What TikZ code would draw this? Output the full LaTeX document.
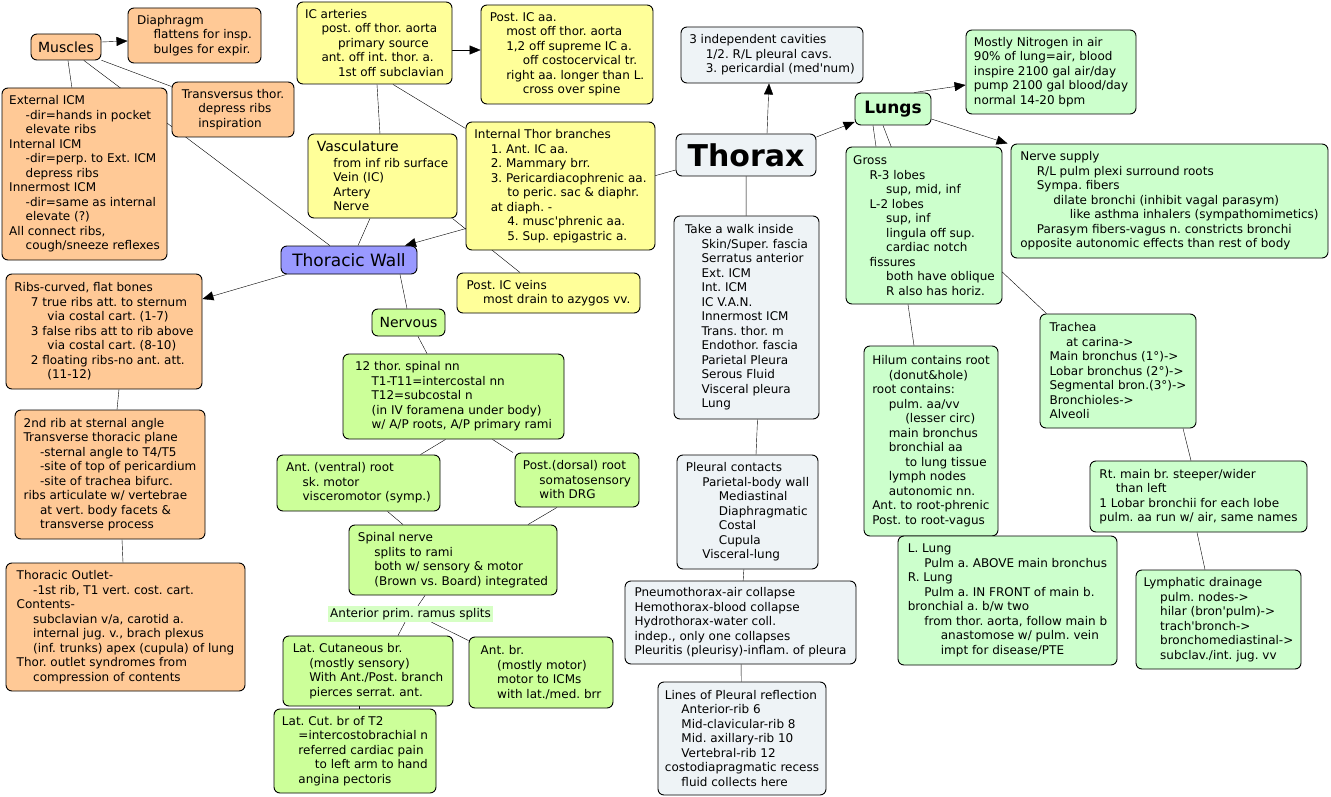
\documentclass[tikz,border=0pt]{standalone}
\usepackage{fontspec}
\setmainfont{DejaVu Sans}
\usepackage{tikz}
\usetikzlibrary{arrows.meta, backgrounds}

\definecolor{boxorange}{RGB}{255,201,150}
\definecolor{boxyellow}{RGB}{255,255,153}
\definecolor{boxgreen}{RGB}{204,255,153}
\definecolor{boxlung}{RGB}{204,255,204}
\definecolor{boxblue}{RGB}{153,153,255}
\definecolor{boxgrey}{RGB}{238,243,246}
\definecolor{linkgreen}{RGB}{214,255,196}

\newcommand{\indA}{\hspace*{16.5pt}}
\newcommand{\indB}{\hspace*{33pt}}
\newcommand{\indC}{\hspace*{49.5pt}}
\newcommand{\apos}{\textquotesingle}
\frenchspacing

\begin{document}
\begin{tikzpicture}[x=1pt,y=-1pt,>={Triangle[length=11pt,width=9pt]},
  every node/.style={font=\fontsize{12}{14.5}\selectfont},
  cbox/.style={draw,rounded corners=6pt,line width=0.9pt,align=left,inner sep=0pt},
  orangebox/.style={cbox,fill=boxorange},
  yellowbox/.style={cbox,fill=boxyellow},
  greenbox/.style={cbox,fill=boxgreen},
  lungbox/.style={cbox,fill=boxlung},
  bluebox/.style={cbox,fill=boxblue},
  greybox/.style={cbox,fill=boxgrey}]
\useasboundingbox (0,0) rectangle (1331,797);

% thoracic wall side
\node[orangebox,minimum width=70pt,minimum height=26pt] (muscles) at (66,47) {\fontsize{14}{17}\selectfont Muscles};
\node[orangebox,minimum width=133pt,minimum height=55pt] (diaphragm) at (194.5,35.5) {Diaphragm\\\indA flattens for insp.\\\indA bulges for expir.};
\node[orangebox,minimum width=165pt,minimum height=172pt] (icm) at (84.5,174) {External ICM\\\indA -dir=hands in pocket\\\indA elevate ribs\\Internal ICM\\\indA -dir=perp. to Ext. ICM\\\indA depress ribs\\Innermost ICM\\\indA -dir=same as internal\\\indA elevate (?)\\All connect ribs,\\\indA cough/sneeze reflexes};
\node[orangebox,minimum width=122pt,minimum height=55pt] (transv) at (233,109.5) {Transversus thor.\\\indA depress ribs\\\indA inspiration};
\node[yellowbox,minimum width=155pt,minimum height=82pt] (icart) at (374.5,43) {IC arteries\\\indA post. off thor. aorta\\\indB primary source\\\indA ant. off int. thor. a.\\\indB 1st off subclavian};
\node[yellowbox,minimum width=172pt,minimum height=99pt] (posticaa) at (567,54.5) {Post. IC aa.\\\indA most off thor. aorta\\\indA 1,2 off supreme IC a.\\\indB off costocervical tr.\\\indA right aa. longer than L.\\\indB cross over spine};
\node[yellowbox,minimum width=149pt,minimum height=84pt] (vasc) at (382.5,176) {{\fontsize{14}{17}\selectfont Vasculature}\\[1.5pt]\indA from inf rib surface\\\indA Vein (IC)\\\indA Artery\\\indA Nerve};
\node[yellowbox,minimum width=189pt,minimum height=128pt] (intthor) at (560.5,186) {Internal Thor branches\\\indA 1. Ant. IC aa.\\\indA 2. Mammary brr.\\\indA 3. Pericardiacophrenic aa.\\\indB to peric. sac \& diaphr.\\\indA at diaph. -\\\indB 4. musc\apos phrenic aa.\\\indB 5. Sup. epigastric a.};
\node[bluebox,minimum width=136pt,minimum height=28pt] (thwall) at (349,260) {\fontsize{17}{20}\selectfont Thoracic Wall};
\node[yellowbox,minimum width=183pt,minimum height=40pt] (posticv) at (548.5,293) {Post. IC veins\\\indA most drain to azygos vv.};
\node[orangebox,minimum width=196pt,minimum height=115pt] (ribs) at (104,331.5) {Ribs-curved, flat bones\\\indA 7 true ribs att. to sternum\\\indB via costal cart. (1-7)\\\indA 3 false ribs att to rib above\\\indB via costal cart. (8-10)\\\indA 2 floating ribs-no ant. att.\\\indB (11-12)};
\node[orangebox,minimum width=190pt,minimum height=129pt] (rib2) at (110,474.5) {2nd rib at sternal angle\\Transverse thoracic plane\\\indA -sternal angle to T4/T5\\\indA -site of top of pericardium\\\indA -site of trachea bifurc.\\ribs articulate w/ vertebrae\\\indA at vert. body facets \&\\\indA transverse process};
\node[orangebox,minimum width=239pt,minimum height=128pt] (outlet) at (125.5,627) {Thoracic Outlet-\\\indA -1st rib, T1 vert. cost. cart.\\Contents-\\\indA subclavian v/a, carotid a.\\\indA internal jug. v., brach plexus\\\indA (inf. trunks) apex (cupula) of lung\\Thor. outlet syndromes from\\\indA compression of contents};

% nerves
\node[greenbox,minimum width=73pt,minimum height=27pt] (nervous) at (408.5,322.5) {\fontsize{14}{17}\selectfont Nervous};
\node[greenbox,minimum width=221pt,minimum height=85pt] (spinalnn) at (453.5,396.5) {12 thor. spinal nn\\\indA T1-T11=intercostal nn\\\indA T12=subcostal n\\\indA (in IV foramena under body)\\\indA w/ A/P roots, A/P primary rami};
\node[greenbox,minimum width=163pt,minimum height=56pt] (antroot) at (358.5,483) {Ant. (ventral) root\\\indA sk. motor\\\indA visceromotor (symp.)};
\node[greenbox,minimum width=124pt,minimum height=54pt] (postroot) at (577,480) {Post.(dorsal) root\\\indA somatosensory\\\indA with DRG};
\node[greenbox,minimum width=208pt,minimum height=70pt] (spinal) at (453,560) {Spinal nerve\\\indA splits to rami\\\indA both w/ sensory \& motor\\\indA (Brown vs. Board) integrated};
\node[fill=linkgreen,inner sep=0pt,minimum width=165pt,minimum height=16pt] (ramus) at (410.5,614) {Anterior prim. ramus splits};
\node[greenbox,minimum width=170pt,minimum height=70pt] (latcut) at (368,671) {Lat. Cutaneous br.\\\indA (mostly sensory)\\\indA With Ant./Post. branch\\\indA pierces serrat. ant.};
\node[greenbox,minimum width=144pt,minimum height=71pt] (antbr) at (541,672.5) {Ant. br.\\\indA (mostly motor)\\\indA motor to ICMs\\\indA with lat./med. brr};
\node[greenbox,minimum width=162pt,minimum height=84pt] (latcutt) at (355,751) {Lat. Cut. br of T2\\\indA =intercostobrachial n\\\indA referred cardiac pain\\\indB to left arm to hand\\\indA angina pectoris};

% thorax and pleura
\node[greybox,minimum width=140pt,minimum height=42pt] (thorax) at (746,155) {\fontsize{30}{34}\selectfont\bfseries Thorax};
\node[greybox,minimum width=182pt,minimum height=56pt] (cavities) at (772,55) {3 independent cavities\\\indA 1/2. R/L pleural cavs.\\\indA 3. pericardial (med\apos num)};
\node[greybox,minimum width=145pt,minimum height=203pt] (walk) at (746.5,317.5) {Take a walk inside\\\indA Skin/Super. fascia\\\indA Serratus anterior\\\indA Ext. ICM\\\indA Int. ICM\\\indA IC V.A.N.\\\indA Innermost ICM\\\indA Trans. thor. m\\\indA Endothor. fascia\\\indA Parietal Pleura\\\indA Serous Fluid\\\indA Visceral pleura\\\indA Lung};
\node[greybox,minimum width=141pt,minimum height=114pt] (pleural) at (747.5,512) {Pleural contacts\\\indA Parietal-body wall\\\indB Mediastinal\\\indB Diaphragmatic\\\indB Costal\\\indB Cupula\\\indA Visceral-lung};
\node[greybox,minimum width=231pt,minimum height=83pt] (pneumo) at (740.5,622.5) {Pneumothorax-air collapse\\Hemothorax-blood collapse\\Hydrothorax-water coll.\\indep., only one collapses\\Pleuritis (pleurisy)-inflam. of pleura};
\node[greybox,minimum width=168pt,minimum height=113pt] (reflect) at (742,738.5) {Lines of Pleural reflection\\\indA Anterior-rib 6\\\indA Mid-clavicular-rib 8\\\indA Mid. axillary-rib 10\\\indA Vertebral-rib 12\\costodiapragmatic recess\\\indA fluid collects here};

% lungs
\node[lungbox,minimum width=76pt,minimum height=32pt] (lungs) at (893,109) {\fontsize{17}{20}\selectfont\bfseries Lungs};
\node[lungbox,minimum width=170pt,minimum height=84pt] (nitrogen) at (1051,72) {Mostly Nitrogen in air\\90\% of lung=air, blood\\inspire 2100 gal air/day\\pump 2100 gal blood/day\\normal 14-20 bpm};
\node[lungbox,minimum width=156pt,minimum height=157pt] (gross) at (924,225.5) {Gross\\\indA R-3 lobes\\\indB sup, mid, inf\\\indA L-2 lobes\\\indB sup, inf\\\indB lingula off sup.\\\indB cardiac notch\\\indA fissures\\\indB both have oblique\\\indB R also has horiz.};
\node[lungbox,minimum width=317pt,minimum height=114pt] (nerves) at (1169.5,201) {Nerve supply\\\indA R/L pulm plexi surround roots\\\indA Sympa. fibers\\\indB dilate bronchi (inhibit vagal parasym)\\\indC like asthma inhalers (sympathomimetics)\\\indA Parasym fibers-vagus n. constricts bronchi\\opposite autonomic effects than rest of body};
\node[lungbox,minimum width=134pt,minimum height=190pt] (hilum) at (931,441) {Hilum contains root\\\indA (donut\&hole)\\root contains:\\\indA pulm. aa/vv\\\indB (lesser circ)\\\indA main bronchus\\\indA bronchial aa\\\indB to lung tissue\\\indA lymph nodes\\\indA autonomic nn.\\Ant. to root-phrenic\\Post. to root-vagus};
\node[lungbox,minimum width=156pt,minimum height=114pt] (trachea) at (1118,371) {Trachea\\\indA at carina->\\Main bronchus (1°)->\\Lobar bronchus (2°)->\\Segmental bron.(3°)->\\Bronchioles->\\Alveoli};
\node[lungbox,minimum width=217pt,minimum height=71pt] (rtmain) at (1198.5,496.5) {Rt. main br. steeper/wider\\\indA than left\\1 Lobar bronchii for each lobe\\pulm. aa run w/ air, same names};
\node[lungbox,minimum width=219pt,minimum height=129pt] (llung) at (1007.5,600.5) {L. Lung\\\indA Pulm a. ABOVE main bronchus\\R. Lung\\\indA Pulm a. IN FRONT of main b.\\bronchial a. b/w two\\\indA from thor. aorta, follow main b\\\indB anastomose w/ pulm. vein\\\indB impt for disease/PTE};
\node[lungbox,minimum width=165pt,minimum height=99pt] (lymph) at (1218.5,619.5) {Lymphatic drainage\\\indA pulm. nodes->\\\indA hilar (bron\apos pulm)->\\\indA trach\apos bronch->\\\indA bronchomediastinal->\\\indA subclav./int. jug. vv};

\begin{scope}[on background layer,line width=0.9pt]
\fill[white] (0,0) rectangle (1331,797);
% muscles and vessels
\draw[->] ([yshift=5pt]muscles.east) -- ([yshift=-5.5pt]diaphragm.west);
\draw (muscles) -- (icm);
\draw (muscles) -- (transv);
\draw (muscles) -- (thwall);
\draw[->] ([yshift=-7pt]icart.east) -- ([yshift=4.5pt]posticaa.west);
\draw (icart) -- (vasc);
\draw ([xshift=18.5pt]icart.south) -- (intthor);
\draw ([xshift=-12.5pt]vasc.south) -- ([xshift=9pt]thwall.north);
\draw ([xshift=-5pt]vasc.south east) -- ([xshift=-28.5pt]posticv.north);
\draw[->] ([xshift=6pt]thwall.south west) -- ([yshift=32.5pt]ribs.east);
\draw ([xshift=15pt]ribs.south) -- ([xshift=7pt]rib2.north);
\draw ([xshift=12pt]rib2.south) -- ([xshift=-2.5pt]outlet.north);
% nerves
\draw ([xshift=51pt]thwall.south) -- ([xshift=-1.5pt]nervous.north);
\draw ([xshift=9.5pt]nervous.south) -- ([xshift=-26.5pt]spinalnn.north);
\draw ([xshift=-8pt]spinalnn.south) -- ([xshift=62pt]antroot.north);
\draw ([xshift=39pt]spinalnn.south) -- ([xshift=-64pt]postroot.north);
\draw ([xshift=29pt]antroot.south) -- ([xshift=-50pt]spinal.north);
\draw ([xshift=-20pt]postroot.south) -- ([xshift=75pt]spinal.north);
\draw ([xshift=-28pt]spinal.south) -- ([xshift=7.5pt]ramus.north);
\draw ([xshift=-5.5pt]ramus.south) -- ([xshift=30pt]latcut.north);
\draw ([xshift=21pt]ramus.south) -- ([yshift=-4pt]antbr.north west);
\draw ([xshift=-9pt]latcut.south) -- ([xshift=4pt]latcutt.north);
% thorax
\draw[->] ([yshift=-15pt]thorax.west) -- ([xshift=56pt]thwall.north);
\draw[->] ([xshift=21pt]thorax.north) -- ([xshift=-3pt]cavities.south);
\draw[->] ([yshift=18pt]thorax.east) -- ([yshift=-13pt]lungs.west);
\draw (thorax) -- (walk);
\draw ([xshift=11pt]walk.south) -- ([xshift=8.5pt]pleural.north);
\draw (pleural) -- (pneumo);
\draw (pneumo) -- (reflect);
% lungs
\draw[->] ([xshift=21pt]lungs.north) -- ([yshift=-13pt]nitrogen.west);
\draw[->] ([yshift=-10pt]lungs.east) -- ([xshift=-3pt]nerves.north west);
\draw ([xshift=-20pt]lungs.south) -- ([xshift=-48pt]gross.north);
\coordinate (grosslink) at (904,180);
\draw ([xshift=-10pt]lungs.south) -- (grosslink) -- ([xshift=7pt]trachea.north west);
\draw ([xshift=-16pt]gross.south) -- ([xshift=-17pt]hilum.north);
\draw (hilum) -- (llung);
\draw ([xshift=65pt]trachea.south) -- ([xshift=-7.5pt]rtmain.north);
\draw ([xshift=-1.5pt]rtmain.south) -- ([xshift=-13.5pt]lymph.north);
\end{scope}
\end{tikzpicture}
\end{document}
